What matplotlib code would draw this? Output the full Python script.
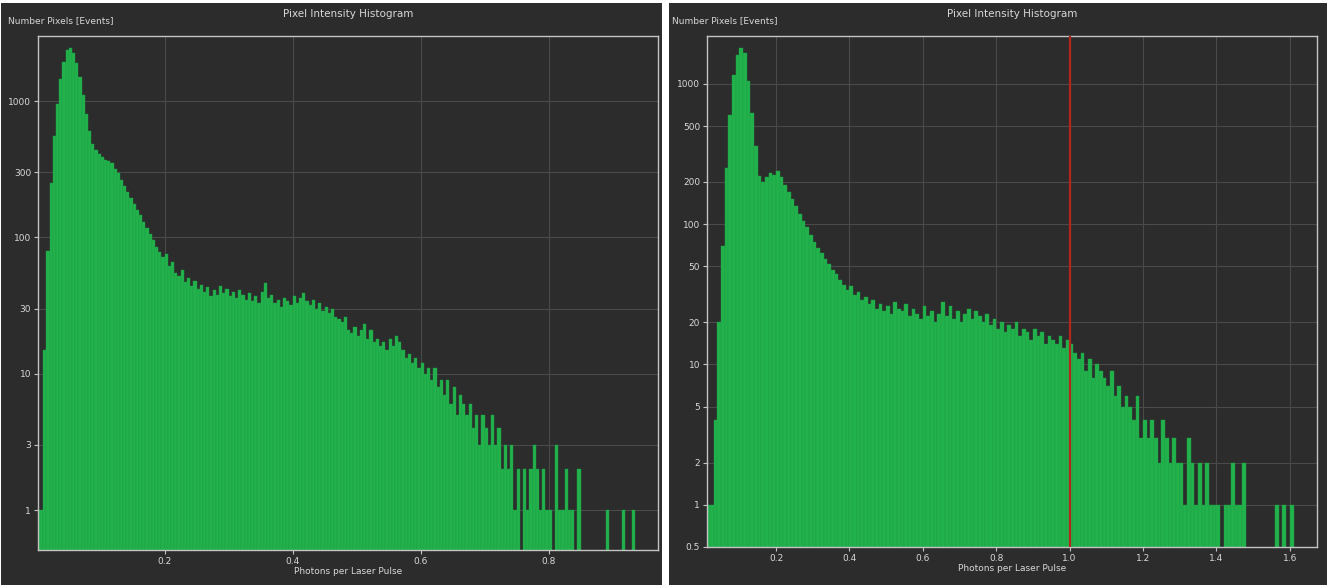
import numpy as np
import matplotlib
matplotlib.use("Agg")
import matplotlib.pyplot as plt
from matplotlib.patches import Rectangle

# ---- data ----
# left histogram: bins of 0.005 starting at 0.0
left_bin_start = 0.0
left_bin_width = 0.005
left_counts = [
    1, 1, 15, 80, 250, 550, 950, 1450, 1950, 2350,
    2450, 2250, 1900, 1500, 1100, 800, 600, 480, 440, 410,
    390, 370, 365, 350, 320, 295, 265, 240, 215, 195,
    175, 160, 145, 130, 118, 105, 95, 85, 78, 72,
    75, 62, 66, 55, 52, 58, 47, 50, 44, 48,
    42, 45, 40, 43, 37, 41, 38, 44, 39, 42,
    37, 40, 36, 41, 38, 35, 39, 34, 37, 33,
    40, 46, 36, 38, 33, 35, 31, 36, 34, 32,
    37, 33, 36, 39, 34, 32, 35, 30, 33, 29,
    31, 28, 30, 26, 25, 24, 26, 21, 20, 22,
    19, 21, 23, 18, 21, 17, 18, 16, 17, 15,
    18, 16, 19, 17, 15, 13, 14, 12, 13, 11,
    12, 10, 11, 9, 11, 8, 9, 7, 9, 6,
    8, 5, 7, 6, 5, 6, 4, 5, 3, 5,
    4, 3, 5, 3, 4, 2, 3, 2, 3, 1,
    2, 0, 2, 1, 2, 3, 2, 1, 2, 1,
    1, 0, 3, 1, 1, 2, 1, 1, 0, 2,
    0, 0, 0, 0, 0, 0, 0, 0, 1, 0,
    0, 0, 0, 1, 0, 0, 1, 0, 0, 0,
]
left_xticks = [0.2, 0.4, 0.6, 0.8]
left_yticks = [1, 3, 10, 30, 100, 300, 1000]

# right histogram: bins of 0.01 starting at 0.01
right_bin_start = 0.01
right_bin_width = 0.01
right_counts = [
    1, 1, 4, 20, 70, 250, 600, 1150, 1600, 1800,
    1650, 1050, 620, 360, 220, 200, 215, 230, 225, 240,
    215, 190, 170, 150, 135, 118, 105, 95, 84, 75,
    68, 62, 56, 52, 47, 44, 40, 37, 34, 36,
    31, 33, 29, 30, 27, 29, 25, 27, 24, 26,
    23, 28, 25, 24, 27, 22, 25, 23, 21, 26,
    22, 24, 20, 23, 28, 22, 26, 21, 24, 20,
    23, 25, 21, 24, 22, 20, 23, 19, 21, 18,
    20, 17, 19, 18, 20, 16, 18, 17, 15, 18,
    16, 17, 14, 16, 15, 14, 16, 13, 15, 14,
    12, 11, 12, 9, 11, 8, 10, 9, 8, 7,
    9, 6, 7, 5, 6, 5, 4, 6, 3, 4,
    3, 4, 3, 2, 4, 3, 2, 3, 2, 2,
    1, 3, 2, 1, 2, 1, 2, 1, 1, 1,
    0, 1, 1, 2, 1, 1, 2, 0, 0, 0,
    0, 0, 0, 0, 0, 1, 0, 1, 0, 1,
    0, 0, 0, 0, 0, 0,
]
right_xticks = [0.2, 0.4, 0.6, 0.8, 1.0, 1.2, 1.4, 1.6]
right_yticks = [0.5, 1, 2, 5, 10, 20, 50, 100, 200, 500, 1000]
threshold = 1.0

title = "Pixel Intensity Histogram"
ylabel = "Number Pixels [Events]"
xlabel = "Photons per Laser Pulse"

# ---- style ----
BG = "#2c2c2c"
GREEN = "#22b24c"
EDGE = "#1c9e43"
GRID = "#4a4a4a"
FRAME = "#c4c4c4"
TXT = "#d8d8d8"

plt.rcParams["font.family"] = ["DejaVu Sans"]

W, H = 1329, 587
fig = plt.figure(figsize=(W / 100, H / 100), dpi=100, facecolor="white")

# dark panel backgrounds, kept behind the axes
for x0, x1 in [(1, 662), (669, 1327)]:
    fig.patches.append(Rectangle((x0 / W, 2 / H), (x1 - x0) / W, (H - 5) / H,
                                 transform=fig.transFigure, facecolor=BG,
                                 edgecolor="none", zorder=-10))


def px_axes(l, t, r, b):
    return fig.add_axes([l / W, 1 - b / H, (r - l) / W, (b - t) / H])


def draw_hist(ax, start, width, counts, xlim, ylim, xticks, yticks, ylbl_x):
    counts = np.array(counts, dtype=float)
    # bin edges on a regular grid
    lefts = start + width * np.arange(len(counts))
    keep = counts > 0
    ax.bar(lefts[keep], counts[keep], width=width, align="edge",
           color=GREEN, edgecolor=EDGE, linewidth=0.3, zorder=2)
    ax.set_yscale("log")
    ax.set_xlim(*xlim)
    ax.set_ylim(*ylim)
    ax.set_facecolor(BG)
    ax.set_xticks(xticks)
    ax.set_xticklabels([f"{v:.1f}" for v in xticks])
    ax.set_yticks(yticks)
    ax.set_yticklabels([f"{v:g}" for v in yticks])
    ax.minorticks_off()
    ax.grid(True, color=GRID, linewidth=0.8, zorder=1)
    ax.set_axisbelow(True)
    for s in ax.spines.values():
        s.set_color(FRAME)
        s.set_linewidth(1.0)
    ax.tick_params(colors=TXT, labelsize=6.5, length=3, width=0.8,
                   color=FRAME, pad=2)
    ax.set_xlabel(xlabel, color=TXT, fontsize=6.5, labelpad=1)
    ax.set_title(title, color=TXT, fontsize=7.5, pad=14)
    ax.text(ylbl_x, 1.022, ylabel, transform=ax.transAxes, color=TXT,
            fontsize=6.5, ha="left", va="bottom")


ax1 = px_axes(38, 36, 658, 550)
draw_hist(ax1, left_bin_start, left_bin_width, left_counts,
          (0.002, 0.971), (0.509, 3000), left_xticks, left_yticks, -0.049)

ax2 = px_axes(707, 36, 1317, 547)
draw_hist(ax2, right_bin_start, right_bin_width, right_counts,
          (0.012, 1.674), (0.5, 2190), right_xticks, right_yticks, -0.058)
ax2.axvline(threshold, color="#b3261e", linewidth=1.6, zorder=3)

fig.savefig("out.png", dpi=100, facecolor=fig.get_facecolor())
